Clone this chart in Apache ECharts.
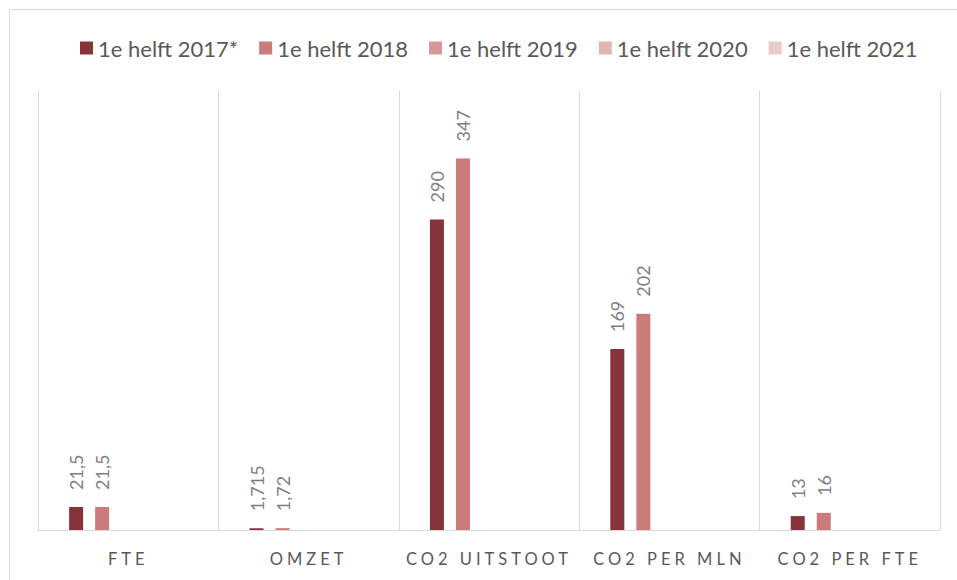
<!DOCTYPE html>
<html><head><meta charset="utf-8">
<script src="https://cdn.jsdelivr.net/npm/echarts@6/dist/echarts.min.js"></script>
<style>
html,body{margin:0;padding:0;background:#fff}
#c{width:957px;height:580px}
#c text[style*="Carlito"], #c text[font-family*="Carlito"]{letter-spacing:4px}
</style>
</head><body><div id="c"></div>
<script>
const categories = ['FTE', 'OMZET', 'CO2 UITSTOOT', 'CO2 PER MLN', 'CO2 PER FTE'];
const seriesNames = ['1e helft 2017*', '1e helft 2018', '1e helft 2019', '1e helft 2020', '1e helft 2021'];
const s2017 = [21.5, 1.715, 290, 169, 13];
const s2018 = [21.5, 1.72, 347, 202, 16];
const s2019 = [];
const s2020 = [];
const s2021 = [];
const colors = ['#87333A', '#CB7B7B', '#D89A98', '#E2B4B4', '#EACACA'];
const FONT = 'Lato';
const seriesData = [s2017, s2018, s2019, s2020, s2021];

const chart = echarts.init(document.getElementById('c'), null, {renderer: 'svg'});
chart.setOption({
  animation: false,
  textStyle: {fontFamily: FONT},
  color: colors,
  graphic: [{type: 'rect', shape: {x: 9.5, y: 9.5, width: 980, height: 600}, style: {fill: 'none', stroke: '#d9d9d9', lineWidth: 1}, silent: true}],
  legend: {
    left: 75, top: 32, itemWidth: 13, itemHeight: 13, itemGap: 21,
    icon: 'rect',
    textStyle: {color: '#595959', fontSize: 22, fontFamily: FONT},
    data: seriesNames
  },
  grid: {left: 38, right: 17, top: 91, bottom: 50},
  xAxis: {
    type: 'category', data: categories,
    axisLine: {lineStyle: {color: '#d9d9d9', width: 1}},
    axisTick: {show: false},
    splitLine: {show: true, interval: 0, lineStyle: {color: '#d9d9d9', width: 1}},
    axisLabel: {color: '#595959', fontSize: 16.5, margin: 20, fontFamily: 'Lato, Carlito'}
  },
  yAxis: {type: 'value', min: 0, max: 410, show: false, splitLine: {show: false}},
  series: seriesNames.map((n, i) => ({
    name: n, type: 'bar', data: seriesData[i], barWidth: 14, barGap: '86%',
    itemStyle: {color: colors[i]},
    label: {
      show: true, position: 'top', rotate: 90, distance: 17, align: 'left', verticalAlign: 'middle',
      color: '#7f7f7f', fontSize: 18, fontFamily: FONT,
      formatter: p => String(p.value).replace('.', ',')
    }
  }))
});
</script></body></html>
